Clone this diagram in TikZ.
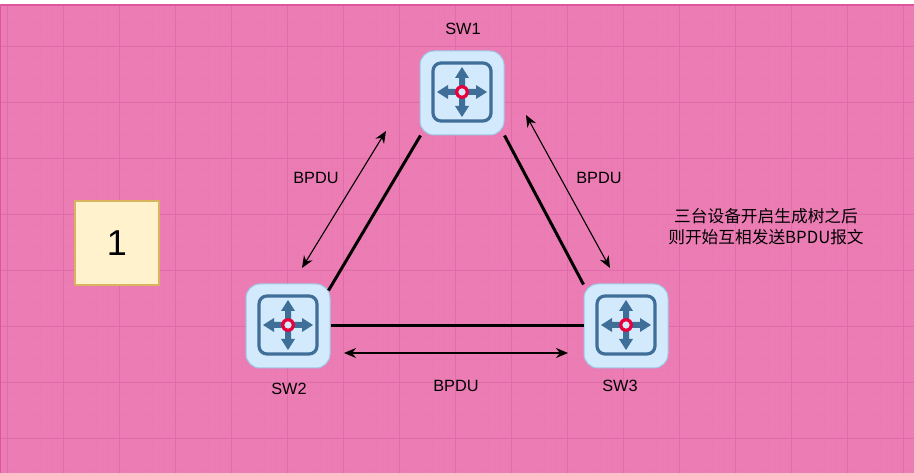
\documentclass[tikz,border=0pt]{standalone}
\usepackage{fontspec}
\setmainfont{Liberation Sans}
\newfontfamily\cjkfont{Noto Sans CJK SC}
\usetikzlibrary{arrows.meta}
\definecolor{pagepink}{HTML}{EC7CB4}
\definecolor{gridminor}{HTML}{EA7AB2}
\definecolor{gridmajor}{HTML}{DF6EA8}
\definecolor{edgepink}{HTML}{E0559B}
\definecolor{iconblue}{HTML}{3F6E99}
\definecolor{iconfill}{HTML}{D2EAFB}
\definecolor{iconline}{HTML}{9CC8E8}
\definecolor{ringred}{HTML}{E6003C}
\definecolor{noteline}{HTML}{D9B45F}
\definecolor{notefill}{HTML}{FFF2CC}
\tikzset{
    switchbox/.style={draw=iconline, fill=iconfill, line width=1pt, rounded corners=14pt, minimum size=84pt, inner sep=0pt},
    notebox/.style={draw=noteline, fill=notefill, line width=1.5pt, minimum size=84pt, inner sep=0pt, font=\fontsize{36}{36}\selectfont},
    lbl/.style={font=\fontsize{16.3}{18}\selectfont, inner sep=0pt},
    link/.style={line width=3pt},
    msg/.style={line width=1.1pt, {Stealth[length=12pt,width=10pt]}-{Stealth[length=12pt,width=10pt]}},
    pics/switchicon/.style={code={
        \draw[iconblue, line width=3.2pt, rounded corners=8pt] (-29,-29) rectangle (29,29);
        \foreach \r in {0,90,180,270}
            \fill[iconblue, rotate=\r] (0,-3) -- (14,-3) -- (14,-7) -- (25,0) -- (14,7) -- (14,3) -- (0,3) -- cycle;
        \draw[ringred, fill=iconfill, line width=3.2pt] (0,0) circle (5.5);
    }}
}
\begin{document}
\begin{tikzpicture}[x=1pt, y=-1pt, line join=round]
    \useasboundingbox (0,0) rectangle (914,473);
    \fill[pagepink] (0,5) rectangle (914,473);

    % grid of the page
    \foreach \i in {0,...,81} \draw[gridminor, line width=0.6pt] ({7+11.2*\i},5) -- ({7+11.2*\i},473);
    \foreach \i in {0,...,41} \draw[gridminor, line width=0.6pt] (0,{12+11.2*\i}) -- (914,{12+11.2*\i});
    \foreach \i in {0,...,16} \draw[gridmajor, line width=0.8pt] ({7+56*\i},5) -- ({7+56*\i},473);
    \foreach \i in {0,...,7} \draw[gridmajor, line width=0.8pt] (0,{46+56*\i}) -- (914,{46+56*\i});
    \draw[edgepink, line width=1.5pt] (0.5,473) -- (0.5,5) -- (914,5);

    \node[switchbox] (sw1) at (462,93) {};
    \node[switchbox] (sw2) at (288,326) {};
    \node[switchbox] (sw3) at (626,326) {};
    \node[notebox] (note) at (117,243) {1};

    \draw[link] ([xshift=1pt]sw1.south west) -- ([xshift=-2pt,yshift=-7pt]sw2.north east);
    \draw[link] (sw1.south east) -- ([yshift=-1pt]sw3.north west);
    \draw[link] (sw2.east) -- (sw3.west);

    \pic at ([yshift=1pt]sw1) {switchicon};
    \pic at ([yshift=1pt]sw2) {switchicon};
    \pic at ([yshift=1pt]sw3) {switchicon};

    \coordinate (a1) at (386,131);
    \coordinate (a2) at (302,268);
    \coordinate (b1) at (526,115);
    \coordinate (b2) at (610,268);
    \coordinate (c1) at (344,353);
    \coordinate (c2) at (568,353);

    \draw[msg] (a1) -- (a2);
    \draw[msg] (b1) -- (b2);
    \draw[msg] (c1) -- (c2);

    \node[lbl] (name1) at (463,29) {SW1};
    \node[lbl] (name2) at (289,389) {SW2};
    \node[lbl] (name3) at (620,386) {SW3};
    \node[lbl] (pdu1) at (316,178) {BPDU};
    \node[lbl] (pdu2) at (599,178) {BPDU};
    \node[lbl] (pdu3) at (456,386) {BPDU};
    \node[lbl, align=center, font=\fontsize{16.7}{21}\selectfont\cjkfont] (text) at (766,227) {三台设备开启生成树之后\\则开始互相发送BPDU报文};
\end{tikzpicture}
\end{document}
